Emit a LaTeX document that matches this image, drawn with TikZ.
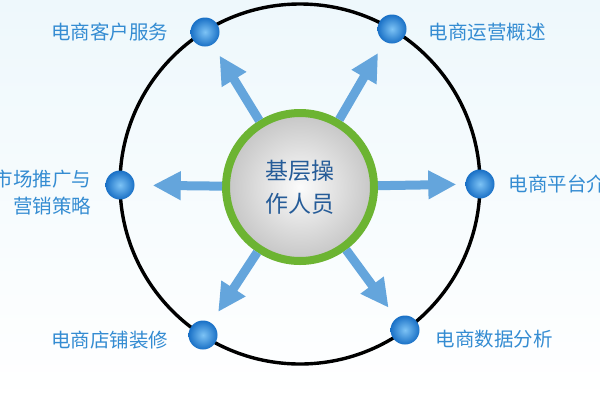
\documentclass[tikz,border=0pt]{standalone}
\usepackage{fontspec}
\newfontfamily\cjk{Noto Sans CJK SC}
\usetikzlibrary{arrows.meta,positioning}
\definecolor{bgtop}{RGB}{238,248,252}
\definecolor{bgmid}{RGB}{214,238,246}
\definecolor{labelblue}{RGB}{52,140,210}
\definecolor{hubtext}{RGB}{38,92,152}
\definecolor{ringgreen}{RGB}{108,180,50}
\definecolor{arrowblue}{RGB}{100,165,220}
\definecolor{dotlight}{RGB}{125,195,245}
\definecolor{dotdark}{RGB}{25,112,198}
\begin{document}
\begin{tikzpicture}[x=1pt, y=-1pt,
  dot/.style={circle, minimum size=29pt, inner sep=0pt, inner color=dotlight, outer color=dotdark},
  lbl/.style={font=\cjk\fontsize{19.5}{27}\selectfont, text=labelblue, inner sep=0pt},
  spoke/.style={line width=9pt, draw=arrowblue, -{Triangle[length=28pt, width=27pt]}, shorten >=13pt}]
  \useasboundingbox (0, 0) rectangle (600, 400);
  \shade[top color=bgtop, middle color=bgmid, bottom color=white] (0, 0) rectangle (600, 400);
  \draw[line width=3.4pt] (300, 184) circle[radius=180pt];
  \node[circle, draw=ringgreen, line width=8pt, minimum size=148pt, inner color=gray!3, outer color=gray!45,
        font=\cjk\fontsize{23}{33}\selectfont, text=hubtext, align=center] (hub) at (300, 187) {基层操\\作人员};
  \node[dot] (kefu)     at (205, 32)  {};
  \node[dot] (yunying)  at (392, 29)  {};
  \node[dot] (pingtai)  at (480, 184) {};
  \node[dot] (tuiguang) at (120, 185) {};
  \node[dot] (dianpu)   at (203, 335) {};
  \node[dot] (shuju)    at (405, 330) {};
  \draw[spoke] (hub) -- (kefu);
  \draw[spoke] (hub) -- (yunying);
  \draw[spoke, shorten >=9pt] (hub) -- (pingtai);
  \draw[spoke, shorten >=18pt] (hub) -- (tuiguang);
  \draw[spoke] (hub) -- (dianpu);
  \draw[spoke] (hub) -- (shuju);
  \node[lbl, left=22pt of kefu] {电商客户服务};
  \node[lbl, right=22pt of yunying, yshift=-3pt] {电商运营概述};
  \node[lbl, right=14pt of pingtai] {电商平台介绍};
  \node[lbl, left=14pt of tuiguang, yshift=-8pt, align=right] {市场推广与\\营销策略};
  \node[lbl, left=20pt of dianpu, yshift=-5pt] {电商店铺装修};
  \node[lbl, right=16pt of shuju, yshift=-9pt] {电商数据分析};
\end{tikzpicture}
\end{document}
